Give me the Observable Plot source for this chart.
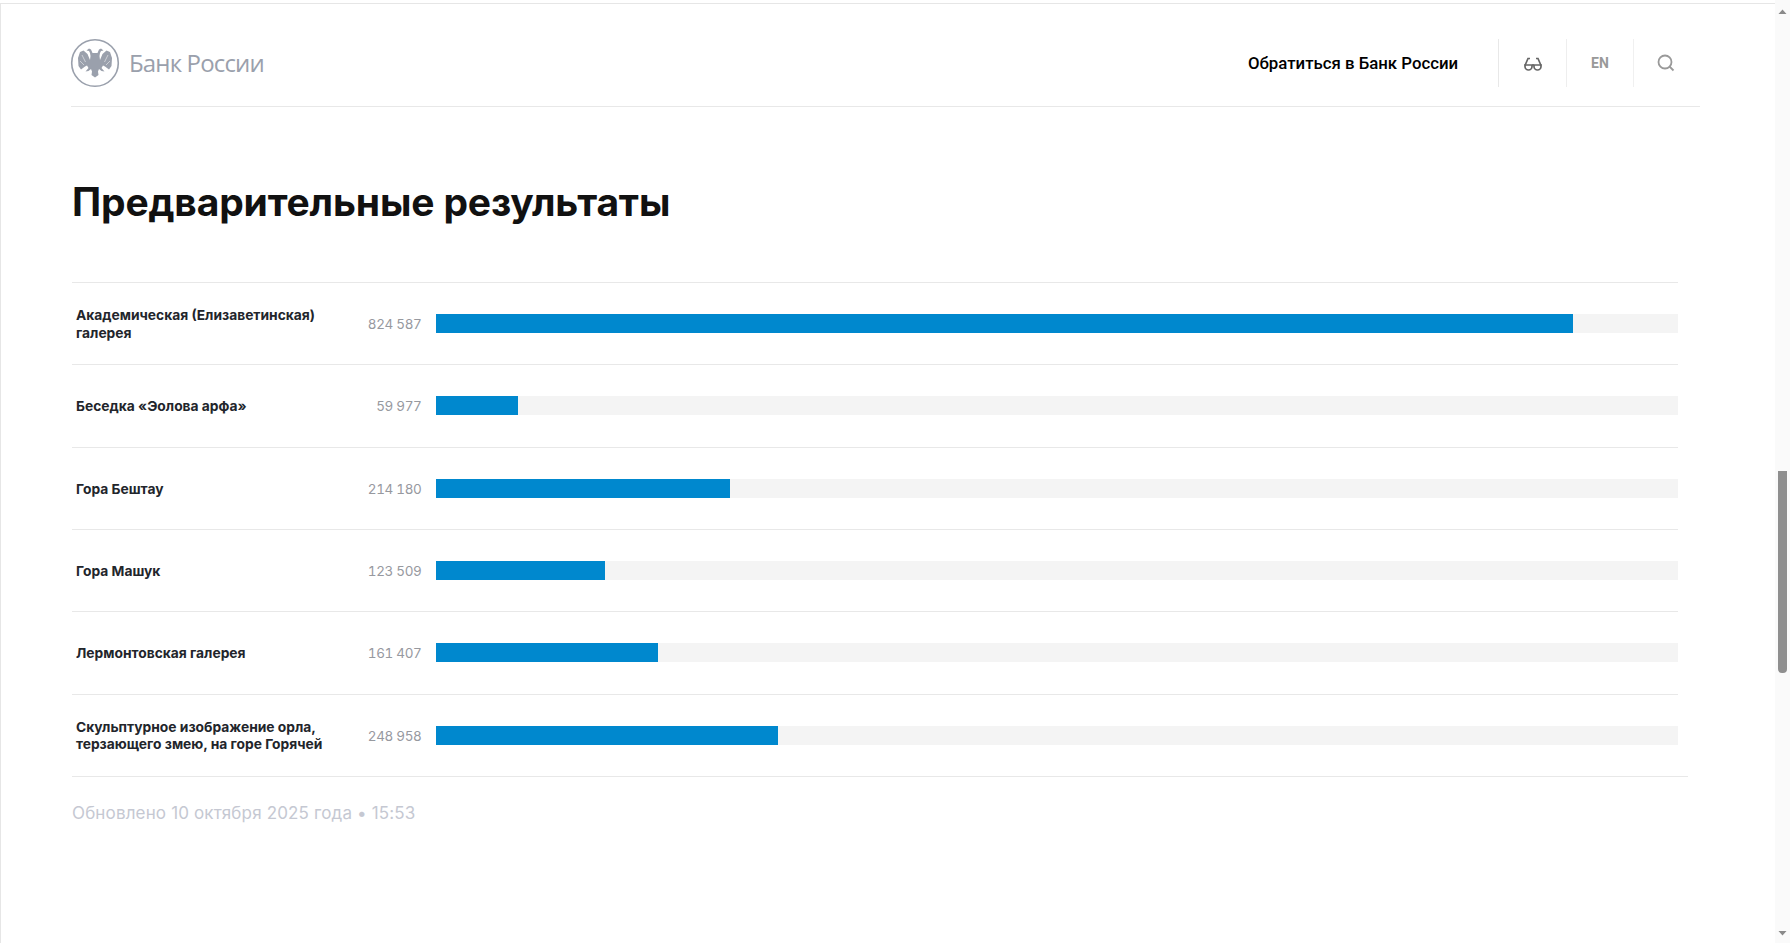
<!DOCTYPE html>
<html lang="ru"><head><meta charset="utf-8">
<script src="https://cdn.jsdelivr.net/npm/d3@7"></script>
<script src="https://cdn.jsdelivr.net/npm/@observablehq/plot@0.6"></script>
<style>
html,body{margin:0;padding:0;width:1790px;height:943px;overflow:hidden;background:#fff;font-family:Inter,sans-serif}
.abs{position:absolute;white-space:nowrap}
#chart{position:absolute;left:0;top:270px}
#chart svg{display:block;overflow:visible;background:transparent}
#chart .val{letter-spacing:-.35px}
</style></head><body>
<div class="abs" style="left:0;top:3px;width:1775px;height:1px;background:#e6e6e6"></div>
<div class="abs" style="left:0;top:3px;width:1px;height:940px;background:#e6e6e6"></div>
<div class="abs" style="left:71px;top:106px;width:1629px;height:1px;background:#e8e8e8"></div>
<svg class="abs" style="left:70px;top:38px" width="50" height="50" viewBox="0 0 50 50">
  <defs>
    <g id="half">
      <path fill="#9aa0ac" d="M25 15L22.500 15 21 11.500 19 10.500 16.500 12.500 19 13 20 15 20.500 18 20 22 17.500 16 13.500 12.500 10 14 8 20 8.500 28 11 31.500 15 28.500 17 27.500 18.500 30 15.500 33.500 18.500 33 21 31 22 33.500 21.500 37 25 39.500z"/>
      <path fill="none" stroke="#fff" stroke-width=".5" d="M12 17L15.500 24M10 23L14 27"/>
    </g>
  </defs>
  <circle cx="25" cy="25" r="23.300" fill="none" stroke="#9aa0ac" stroke-width="1.600"/>
  <use href="#half"/><use href="#half" transform="translate(50,0) scale(-1,1)"/>
</svg>
<div class="abs" style="left:129px;top:45.500px;font:400 24px 'Open Sans';color:#9aa0ac;letter-spacing:-.85px">Банк России</div>
<div class="abs" style="left:1248px;top:53px;font:500 16.800px Roboto;color:#000">Обратиться в Банк России</div>
<div class="abs" style="left:1498px;top:39px;width:1px;height:48px;background:#e8e8e8"></div>
<div class="abs" style="left:1566px;top:39px;width:1px;height:48px;background:#eeeeee"></div>
<div class="abs" style="left:1633px;top:39px;width:1px;height:48px;background:#f0f0f0"></div>
<svg class="abs" style="left:1522px;top:54px" width="22" height="17" viewBox="0 0 22 17" fill="none" stroke="#666" stroke-width="1.700">
  <path d="M3 11h7v1.500a3.500 3.500 0 0 1-7 0zM12 11h7v1.500a3.500 3.500 0 0 1-7 0z"/><path d="M3 11.500L6 4.500h2M19 11.500L16 4.500h-2M10 11h2"/>
</svg>
<div class="abs" style="left:1591px;top:55px;font:700 14px Roboto;color:#999">EN</div>
<svg class="abs" style="left:1657px;top:54px" width="18" height="18" viewBox="0 0 18 18" fill="none" stroke="#999" stroke-width="1.800">
  <circle cx="8" cy="8" r="6.500"/><path d="M12.500 12.500L16.500 16.500"/>
</svg>
<div class="abs" style="left:72px;top:178px;font:700 39px Inter;color:#111;letter-spacing:-.16px">Предварительные результаты</div>
<div id="chart"></div>
<div class="abs" style="left:72px;top:803px;font:400 17px Inter;color:#c5c8d2;letter-spacing:.15px">Обновлено 10 октября 2025 года • 15:53</div>
<div class="abs" style="left:1775px;top:0;width:15px;height:943px;background:#fafafa"></div>
<div class="abs" style="left:1778px;top:471px;width:9px;height:202px;background:#8f8f8f;border-radius:0 0 4px 4px"></div>
<svg class="abs" style="left:1775px;top:0" width="15" height="943" fill="#8a8a8a"><path d="M3.500 14h8l-4-4.500zM3.500 931h8l-4 4.500z"/></svg>
<script>
const names = [
  "Академическая (Елизаветинская)\nгалерея",
  "Беседка «Эолова арфа»",
  "Гора Бештау",
  "Гора Машук",
  "Лермонтовская галерея",
  "Скульптурное изображение орла,\nтерзающего змею, на горе Горячей"
];
const values = [824587, 59977, 214180, 123509, 161407, 248958];
const scaleMax = 900700;
const rows = names.map((name, i) => ({name, value: values[i]}));
const fmt = v => d3.format(",")(v).replace(/,/g, " ");
const rowH = 494 / 6, inset = (rowH - 19) / 2;
const plot = Plot.plot({
  width: 1790, height: 520,
  marginLeft: 72, marginRight: 112, marginTop: 0, marginBottom: 0,
  x: {domain: [0, scaleMax], range: [435, 1677.6], axis: null},
  y: {domain: names, range: [12.25, 506.25], padding: 0, round: false, axis: null},
  style: {background: "transparent"},
  marks: [
    Plot.barX(rows, {x: () => scaleMax, y: "name", fill: "#f4f4f4", insetLeft: 0.6, insetTop: inset, insetBottom: inset, shapeRendering: "crispEdges"}),
    Plot.barX(rows, {x: "value", y: "name", fill: "#0088ce", insetLeft: 0.6, insetTop: inset, insetBottom: inset, shapeRendering: "crispEdges"}),
    Plot.ruleX([0], {y1: names[0], y2: names[5], stroke: "#e8e8e8", shapeRendering: "crispEdges", insetTop: -rowH / 2, insetBottom: -rowH / 2}),
    Plot.ruleY(names, {y: d => d, dy: -rowH / 2 - 0.25, stroke: "#e8e8e8", strokeWidth: 1, shapeRendering: "crispEdges"}),
    Plot.ruleY([names[5]], {dy: rowH / 2 - 0.25, stroke: "#e8e8e8", strokeWidth: 1, insetRight: -10, shapeRendering: "crispEdges"}),
    Plot.text(rows, {text: "name", y: "name", frameAnchor: "left", dx: 3.500, dy: -0.5, textAnchor: "start", lineAnchor: "middle", lineHeight: 1.25, fontFamily: "Inter", fontWeight: 700, fontSize: 13.800, fill: "#22252b"}),
    Plot.text(rows, {text: d => fmt(d.value), y: "name", x: 0, dx: -14, dy: 0.75, textAnchor: "end", fontFamily: "Inter", fontVariant: "tabular-nums", fontSize: 13.500, fill: "#97999f", className: "val"})
  ]
});
document.getElementById("chart").appendChild(plot);
</script>
</body></html>
